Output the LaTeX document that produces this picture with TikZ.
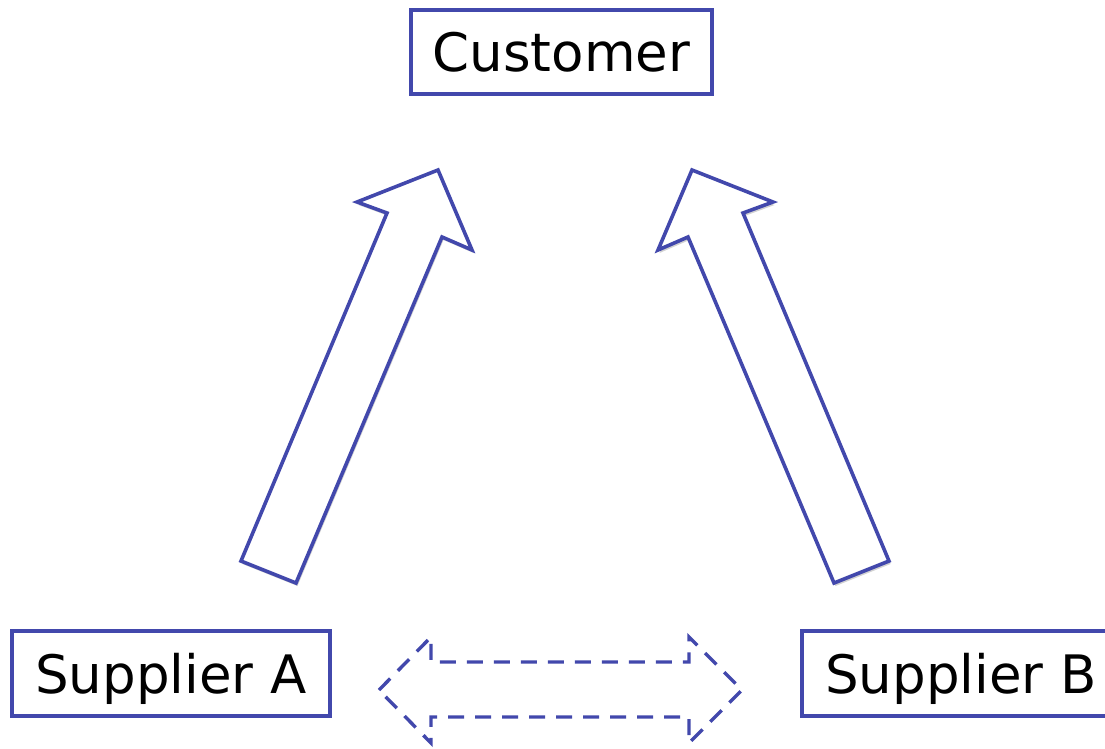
\documentclass[tikz,border=0pt]{standalone}
\usepackage{fontspec}
\setmainfont{DejaVu Sans}
\usetikzlibrary{shadows}
\definecolor{lineblue}{RGB}{66,72,172}
\tikzset{
  box/.style={draw=lineblue, line width=3.3pt, fill=white, inner sep=0pt,
    font=\fontsize{53}{60}\selectfont, text=black},
  blockarrow/.style={draw=lineblue, line width=3.6pt, fill=white, line join=miter,
    drop shadow={shadow xshift=1.5pt, shadow yshift=-3pt, opacity=0.18, fill=black}},
  dasharrow/.style={draw=lineblue, line width=3.4pt, line join=miter,
    dash pattern=on 16pt off 11pt}
}
\begin{document}
\begin{tikzpicture}[x=1pt,y=-1pt]
\useasboundingbox (0,0) rectangle (1105,748);
\clip (0,0) rectangle (1105,748);
% boxes
\node[box, minimum width=301pt, minimum height=84pt] (cust) at (561.5,52) {Customer};
\node[box, minimum width=318pt, minimum height=85pt, text depth=0pt] (supA) at (171,673.5) {Supplier A};
\node[box, minimum width=318pt, minimum height=85pt, text depth=0pt] (supB) at (961,673.5) {Supplier B};
% block arrow A -> Customer
\draw[blockarrow] (241,561) -- (387,213) -- (357,202) -- (438,170) -- (472,250) -- (442,237) -- (296,583) -- cycle;
% block arrow B -> Customer
\draw[blockarrow] (889,561) -- (743,213) -- (773,202) -- (692,170) -- (658,250) -- (688,237) -- (834,583) -- cycle;
% dashed double arrow between suppliers
\draw[dasharrow] (379,690) -- (431,637) -- (431,662) -- (689,662) -- (689,637) -- (742,690) -- (689,743) -- (689,717) -- (431,717) -- (431,743) -- cycle;
\end{tikzpicture}
\end{document}
